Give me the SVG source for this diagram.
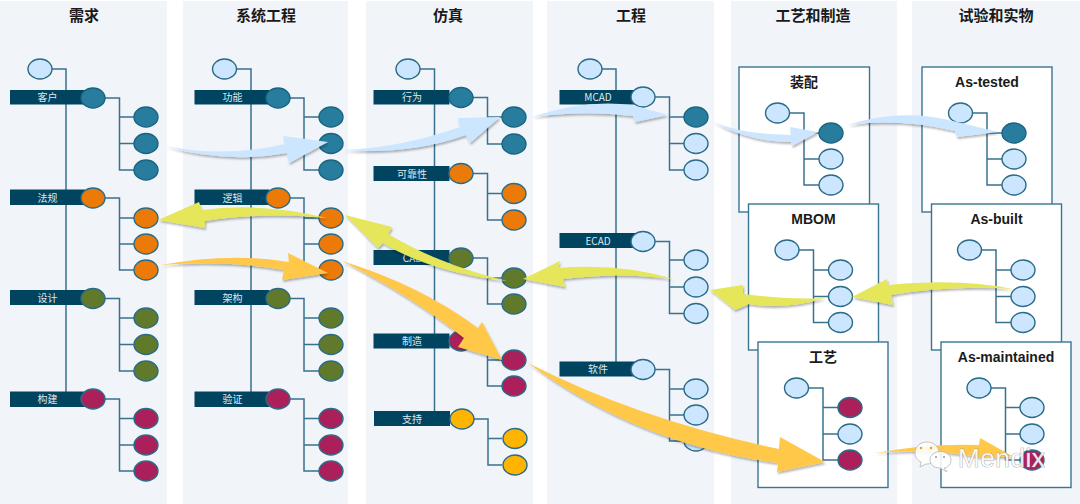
<svg xmlns="http://www.w3.org/2000/svg" width="1080" height="504" viewBox="0 0 1080 504">
<defs>
<style>
.panel{fill:#f1f5f9}
.title{font:bold 15px "Noto Sans CJK SC","Liberation Sans",sans-serif;fill:#1a1a1a;text-anchor:middle}
.boxt{font:bold 14px "Liberation Sans","Noto Sans CJK SC",sans-serif;fill:#1a1a1a;text-anchor:middle}
.lab{font:10px "Noto Sans CJK SC","Liberation Sans",sans-serif;fill:#dfe9ef;text-anchor:middle}
.bar{fill:#00445f}
.box{fill:#fff;stroke:#3a7590;stroke-width:1.4}
.ln{fill:none;stroke:#38728e;stroke-width:1.5}
ellipse{stroke:#2a6c88;stroke-width:1.4}
.b{fill:#cde6ff}.t{fill:#287d9e;stroke:#1a6482}.o{fill:#eb7a08}.g{fill:#60792b}.c{fill:#ab205a}.y{fill:#ffb400}
.ab{fill:#cde6ff;filter:url(#sh)}.ay{fill:#e5e65a;filter:url(#sh)}.ao{fill:#ffc84a;filter:url(#sh)}
.wm{font:26px "Liberation Sans",sans-serif;letter-spacing:.6px;fill:#fff;fill-opacity:.9;stroke:#8c8c8c;stroke-width:.7;paint-order:stroke}
.bub{fill:#fff;fill-opacity:.88;stroke:#b5b5b5;stroke-width:.8}
.dot1{fill:#d9a441}.dot2{fill:#9a9a9a}
</style>
<filter id="sh" x="-20%" y="-40%" width="140%" height="200%"><feDropShadow dx="1" dy="2" stdDeviation="1.3" flood-color="#000" flood-opacity=".3"/></filter>
</defs>

<g id="panels">
<rect class="panel" x="0" y="1" width="167" height="503"/>
<rect class="panel" x="183" y="1" width="165" height="503"/>
<rect class="panel" x="366" y="1" width="167" height="503"/>
<rect class="panel" x="547" y="1" width="167" height="503"/>
<rect class="panel" x="731" y="1" width="166" height="503"/>
<rect class="panel" x="912" y="1" width="168" height="503"/>
<text class="title" x="84" y="21">需求</text>
<text class="title" x="266" y="21">系统工程</text>
<text class="title" x="448" y="21">仿真</text>
<text class="title" x="631" y="21">工程</text>
<text class="title" x="813" y="21">工艺和制造</text>
<text class="title" x="996" y="21">试验和实物</text>
</g>

<g id="boxes">
<rect class="box" x="739" y="67" width="130.500" height="145"/>
<rect class="box" x="748.500" y="204" width="130" height="146"/>
<rect class="box" x="758" y="342" width="130" height="145.500"/>
<rect class="box" x="922" y="67" width="130" height="145"/>
<rect class="box" x="931.500" y="204" width="130" height="146"/>
<rect class="box" x="941" y="342" width="130" height="145.500"/>
<text class="boxt" x="804" y="87">装配</text>
<text class="boxt" x="813.500" y="224">MBOM</text>
<text class="boxt" x="823" y="362">工艺</text>
<text class="boxt" x="987" y="87">As-tested</text>
<text class="boxt" x="996.500" y="224">As-built</text>
<text class="boxt" x="1006" y="362">As-maintained</text>
</g>

<g id="connectors" class="ln">
<path d="M52,69H66V392M105,98H119.500V170H134M119.500,117H134M119.500,143.500H134M105,198H119.500V270H134M119.500,218H134M119.500,244H134M105,298.500H119.500V371H134M119.500,318H134M119.500,344.500H134M105,399H119.500V471H134M119.500,418.500H134M119.500,445H134"/>
<path d="M236,69H251V392M290,98H304V170H319M304,117H319M304,143.500H319M290,198H304V270H319M304,218H319M304,244H319M290,298.500H304V371H319M304,318H319M304,344.500H319M290,399H304V471H319M304,418.500H319M304,445H319"/>
<path d="M420,69H434.500V411M473,97.500H487.500V144H502M487.500,117H502M473,173.500H487.500V220H502M487.500,193.500H502M473,258H487.500V304H502M487.500,278H502M473,341H487.500V386H502M487.500,360H502M474,419H488V465H502M488,438.500H502"/>
<path d="M602,69H616V362M655,97H669.500V170H684M669.500,117H684M669.500,143.500H684M655,241.500H669.500V313.500H684M669.500,260H684M669.500,287H684M655,369.500H669.500V441H684M669.500,389H684M669.500,415H684"/>
<path d="M789.500,113H804V185H819M804,133H819M804,159H819"/>
<path d="M799,250H813.500V322.500H828.500M813.500,270H828.500M813.500,296.500H828.500"/>
<path d="M808.500,388H823V460H838M823,407.500H838M823,434H838"/>
<path d="M972.500,113H987V185H1002M987,133H1002M987,159H1002"/>
<path d="M981.500,250H996V322.500H1011M996,270H1011M996,296.500H1011"/>
<path d="M991,388H1005.500V460H1020M1005.500,407.500H1020M1005.500,434H1020"/>
</g>

<g id="col-requirements">
<g id="r-root"><ellipse class="b" cx="40" cy="69" rx="12" ry="10"/></g>
<g id="r1"><rect class="bar" x="10" y="90" width="75" height="14.500"/><text class="lab" x="47.500" y="101">客户</text><ellipse class="t" cx="93" cy="98" rx="12" ry="10"/></g>
<g id="r1a"><ellipse class="t" cx="146" cy="117" rx="12" ry="10"/></g>
<g id="r1b"><ellipse class="t" cx="146" cy="143.500" rx="12" ry="10"/></g>
<g id="r1c"><ellipse class="t" cx="146" cy="170" rx="12" ry="10"/></g>
<g id="r2"><rect class="bar" x="10" y="189.500" width="75" height="15.500"/><text class="lab" x="47.500" y="201.500">法规</text><ellipse class="o" cx="93" cy="198" rx="12" ry="10"/></g>
<g id="r2a"><ellipse class="o" cx="146" cy="218" rx="12" ry="10"/></g>
<g id="r2b"><ellipse class="o" cx="146" cy="244" rx="12" ry="10"/></g>
<g id="r2c"><ellipse class="o" cx="146" cy="270" rx="12" ry="10"/></g>
<g id="r3"><rect class="bar" x="10" y="290" width="75" height="15"/><text class="lab" x="47.500" y="302">设计</text><ellipse class="g" cx="93" cy="298.500" rx="12" ry="10"/></g>
<g id="r3a"><ellipse class="g" cx="146" cy="318" rx="12" ry="10"/></g>
<g id="r3b"><ellipse class="g" cx="146" cy="344.500" rx="12" ry="10"/></g>
<g id="r3c"><ellipse class="g" cx="146" cy="371" rx="12" ry="10"/></g>
<g id="r4"><rect class="bar" x="10" y="391.500" width="75" height="15.500"/><text class="lab" x="47.500" y="403">构建</text><ellipse class="c" cx="93" cy="399" rx="12" ry="10"/></g>
<g id="r4a"><ellipse class="c" cx="146" cy="418.500" rx="12" ry="10"/></g>
<g id="r4b"><ellipse class="c" cx="146" cy="445" rx="12" ry="10"/></g>
<g id="r4c"><ellipse class="c" cx="146" cy="471" rx="12" ry="10"/></g>
</g>

<g id="col-systems">
<g id="s-root"><ellipse class="b" cx="224.500" cy="69" rx="12" ry="10"/></g>
<g id="s1"><rect class="bar" x="194.500" y="90" width="75" height="14.500"/><text class="lab" x="232.500" y="101">功能</text><ellipse class="t" cx="278" cy="98" rx="12" ry="10"/></g>
<g id="s1a"><ellipse class="t" cx="331" cy="117" rx="12" ry="10"/></g>
<g id="s1b"><ellipse class="t" cx="331" cy="143.500" rx="12" ry="10"/></g>
<g id="s1c"><ellipse class="t" cx="331" cy="170" rx="12" ry="10"/></g>
<g id="s2"><rect class="bar" x="194.500" y="189.500" width="75" height="15.500"/><text class="lab" x="232.500" y="201.500">逻辑</text><ellipse class="o" cx="278" cy="198" rx="12" ry="10"/></g>
<g id="s2a"><ellipse class="o" cx="331" cy="218" rx="12" ry="10"/></g>
<g id="s2b"><ellipse class="o" cx="331" cy="244" rx="12" ry="10"/></g>
<g id="s2c"><ellipse class="o" cx="331" cy="270" rx="12" ry="10"/></g>
<g id="s3"><rect class="bar" x="194.500" y="290" width="75" height="15"/><text class="lab" x="232.500" y="302">架构</text><ellipse class="g" cx="278" cy="298.500" rx="12" ry="10"/></g>
<g id="s3a"><ellipse class="g" cx="331" cy="318" rx="12" ry="10"/></g>
<g id="s3b"><ellipse class="g" cx="331" cy="344.500" rx="12" ry="10"/></g>
<g id="s3c"><ellipse class="g" cx="331" cy="371" rx="12" ry="10"/></g>
<g id="s4"><rect class="bar" x="194.500" y="391.500" width="75" height="15.500"/><text class="lab" x="232.500" y="403">验证</text><ellipse class="c" cx="278" cy="399" rx="12" ry="10"/></g>
<g id="s4a"><ellipse class="c" cx="331" cy="418.500" rx="12" ry="10"/></g>
<g id="s4b"><ellipse class="c" cx="331" cy="445" rx="12" ry="10"/></g>
<g id="s4c"><ellipse class="c" cx="331" cy="471" rx="12" ry="10"/></g>
</g>

<g id="col-simulation">
<g id="m-root"><ellipse class="b" cx="408" cy="69" rx="12" ry="10"/></g>
<g id="m1"><rect class="bar" x="373.500" y="90" width="76" height="14.500"/><text class="lab" x="412" y="101">行为</text><ellipse class="t" cx="461" cy="97.500" rx="12" ry="10"/></g>
<g id="m1a"><ellipse class="t" cx="514" cy="117" rx="12" ry="10"/></g>
<g id="m1b"><ellipse class="t" cx="514" cy="144" rx="12" ry="10"/></g>
<g id="m2"><rect class="bar" x="373.500" y="166" width="76" height="15"/><text class="lab" x="412" y="177.500">可靠性</text><ellipse class="o" cx="461" cy="173.500" rx="12" ry="10"/></g>
<g id="m2a"><ellipse class="o" cx="514" cy="193.500" rx="12" ry="10"/></g>
<g id="m2b"><ellipse class="o" cx="514" cy="220" rx="12" ry="10"/></g>
<g id="m3"><rect class="bar" x="373.500" y="250" width="76" height="15"/><text class="lab" x="412" y="261.500">CAE</text><ellipse class="g" cx="461" cy="258" rx="12" ry="10"/></g>
<g id="m3a"><ellipse class="g" cx="514" cy="278" rx="12" ry="10"/></g>
<g id="m3b"><ellipse class="g" cx="514" cy="304" rx="12" ry="10"/></g>
<g id="m4"><rect class="bar" x="373.500" y="333.500" width="76" height="15"/><text class="lab" x="412" y="345">制造</text><ellipse class="c" cx="461" cy="341" rx="12" ry="10"/></g>
<g id="m4a"><ellipse class="c" cx="514" cy="360" rx="12" ry="10"/></g>
<g id="m4b"><ellipse class="c" cx="514" cy="386" rx="12" ry="10"/></g>
<g id="m5"><rect class="bar" x="374" y="411" width="76" height="15"/><text class="lab" x="412" y="422.500">支持</text><ellipse class="y" cx="462" cy="419" rx="12" ry="10"/></g>
<g id="m5a"><ellipse class="y" cx="515" cy="438.500" rx="12" ry="10"/></g>
<g id="m5b"><ellipse class="y" cx="515" cy="465" rx="12" ry="10"/></g>
</g>

<g id="col-engineering">
<g id="e-root"><ellipse class="b" cx="590" cy="69" rx="12" ry="10"/></g>
<g id="e1"><rect class="bar" x="559.500" y="90" width="76" height="14.500"/><text class="lab" x="598" y="101">MCAD</text><ellipse class="b" cx="643" cy="97" rx="12" ry="10"/></g>
<g id="e1a"><ellipse class="t" cx="696" cy="117" rx="12" ry="10"/></g>
<g id="e1b"><ellipse class="b" cx="696" cy="143.500" rx="12" ry="10"/></g>
<g id="e1c"><ellipse class="b" cx="696" cy="170" rx="12" ry="10"/></g>
<g id="e2"><rect class="bar" x="559.500" y="233" width="76" height="15"/><text class="lab" x="598" y="244.500">ECAD</text><ellipse class="b" cx="643" cy="241.500" rx="12" ry="10"/></g>
<g id="e2a"><ellipse class="b" cx="696" cy="260" rx="12" ry="10"/></g>
<g id="e2b"><ellipse class="b" cx="696" cy="287" rx="12" ry="10"/></g>
<g id="e2c"><ellipse class="b" cx="696" cy="313.500" rx="12" ry="10"/></g>
<g id="e3"><rect class="bar" x="559.500" y="361.500" width="76" height="15"/><text class="lab" x="598" y="373">软件</text><ellipse class="b" cx="643" cy="369.500" rx="12" ry="10"/></g>
<g id="e3a"><ellipse class="b" cx="696" cy="389" rx="12" ry="10"/></g>
<g id="e3b"><ellipse class="b" cx="696" cy="415" rx="12" ry="10"/></g>
<g id="e3c"><ellipse class="b" cx="696" cy="441" rx="12" ry="10"/></g>
</g>

<g id="tree-assembly">
<g id="a-root"><ellipse class="b" cx="777.500" cy="113" rx="12" ry="10"/></g>
<g id="a1"><ellipse class="t" cx="831" cy="133" rx="12" ry="10"/></g>
<g id="a2"><ellipse class="b" cx="831" cy="159" rx="12" ry="10"/></g>
<g id="a3"><ellipse class="b" cx="831" cy="185" rx="12" ry="10"/></g>
</g>
<g id="tree-mbom">
<g id="b-root"><ellipse class="b" cx="787" cy="250" rx="12" ry="10"/></g>
<g id="b1"><ellipse class="b" cx="840.500" cy="270" rx="12" ry="10"/></g>
<g id="b2"><ellipse class="b" cx="840.500" cy="296.500" rx="12" ry="10"/></g>
<g id="b3"><ellipse class="b" cx="840.500" cy="322.500" rx="12" ry="10"/></g>
</g>
<g id="tree-process">
<g id="p-root"><ellipse class="b" cx="796.500" cy="388" rx="12" ry="10"/></g>
<g id="p1"><ellipse class="c" cx="850" cy="407.500" rx="12" ry="10"/></g>
<g id="p2"><ellipse class="b" cx="850" cy="434" rx="12" ry="10"/></g>
<g id="p3"><ellipse class="c" cx="850" cy="460" rx="12" ry="10"/></g>
</g>
<g id="tree-tested">
<g id="t-root"><ellipse class="b" cx="960.500" cy="113" rx="12" ry="10"/></g>
<g id="t1"><ellipse class="t" cx="1014" cy="133" rx="12" ry="10"/></g>
<g id="t2"><ellipse class="b" cx="1014" cy="159" rx="12" ry="10"/></g>
<g id="t3"><ellipse class="b" cx="1014" cy="185" rx="12" ry="10"/></g>
</g>
<g id="tree-built">
<g id="u-root"><ellipse class="b" cx="969.500" cy="250" rx="12" ry="10"/></g>
<g id="u1"><ellipse class="b" cx="1023" cy="270" rx="12" ry="10"/></g>
<g id="u2"><ellipse class="b" cx="1023" cy="296.500" rx="12" ry="10"/></g>
<g id="u3"><ellipse class="b" cx="1023" cy="322.500" rx="12" ry="10"/></g>
</g>
<g id="tree-maintained">
<g id="v-root"><ellipse class="b" cx="979" cy="388" rx="12" ry="10"/></g>
<g id="v1"><ellipse class="b" cx="1032" cy="407.500" rx="12" ry="10"/></g>
<g id="v2"><ellipse class="b" cx="1032" cy="434" rx="12" ry="10"/></g>
<g id="v3"><ellipse class="c" cx="1032" cy="460" rx="12" ry="10"/></g>
</g>

<g id="flows">
<path class="ab" d="M165,146Q225,158 285,144L283,136L328,142L289,163L287,153Q225,164 165,146Z"/>
<path class="ab" d="M343,150Q400,148 460,127L458,118L500,117L470,143L466,135Q410,155 343,150Z"/>
<path class="ab" d="M532,117Q585,99 632,105L668,115L635,122L633,116Q585,110 532,117Z"/>
<path class="ab" d="M713,122Q745,135 791,135L790,127L818,132L792,146L791,142Q750,142 713,122Z"/>
<path class="ab" d="M848,125Q900,108 953,121L998,132L957,137L955,131Q900,118 848,125Z"/>
<path class="ay" d="M158,220L199,202L202,210Q260,202 327,218Q260,212 205,221L205,228Z"/>
<path class="ay" d="M345,215L392,227L388,234Q440,265 507,281Q430,272 383,243L378,248Z"/>
<path class="ay" d="M523,279L560,261L558,268Q620,263 673,279Q620,272 563,279L565,287Z"/>
<path class="ay" d="M710,290L743,285L743,294Q790,300 825,298Q785,310 749,304L735,310Z"/>
<path class="ay" d="M852,297L887,279L888,285Q960,278 1013,289Q950,285 891,295L893,305Z"/>
<path class="ao" d="M161,265Q230,252 289,262L288,253L328,273L282,280L284,270Q225,260 161,265Z"/>
<path class="ao" d="M342,261Q420,285 478,328L482,322L502,360L458,347L464,338Q410,295 342,261Z"/>
<path class="ao" d="M528,363Q640,420 779,449L780,437L825,462L777,472L778,463Q640,445 528,363Z"/>
<path class="ao" d="M875,453Q930,443 979,445L980,438L1012,456L985,458Q930,448 875,453Z"/>
</g>

<g id="watermark">
<path class="bub" d="M915,453c0-6 5-11 12-11s12,5 12,11-5,11-12,11l-1,0-6,3 1-5c-4-2-6-5-6-9z"/>
<circle class="dot1" cx="921" cy="448" r="1.300"/><circle class="dot1" cx="931" cy="448" r="1.300"/>
<path class="bub" d="M930,460c0-5 5-8.500 10.500-8.500s10.500,3.500 10.500,8.500-4,8-7,8l3,4-7-4c-6,0-10-3.500-10-8z"/>
<circle class="dot2" cx="936" cy="457" r="1"/><circle class="dot2" cx="944" cy="457" r="1"/>
<text class="wm" x="958" y="467">Mendix</text>
</g>
</svg>
